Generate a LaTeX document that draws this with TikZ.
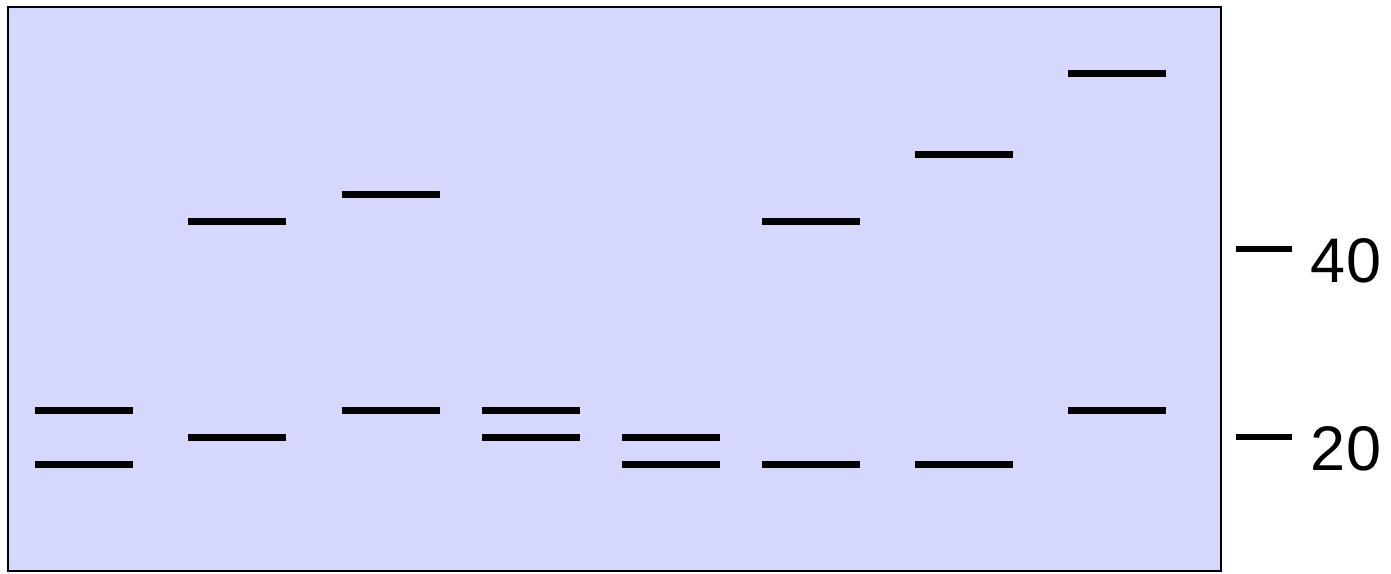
\documentclass[tikz,border=0pt]{standalone}
\usepackage{fontspec}
\setmainfont{Liberation Sans}
\definecolor{gelbg}{RGB}{213,215,253}
\begin{document}
\begin{tikzpicture}[x=1pt,y=-1pt,
  band/.style={line width=7pt},
  marker/.style={line width=5.5pt},
  lbl/.style={font=\fontsize{63}{63}\selectfont, inner sep=0pt, anchor=center}]
\useasboundingbox (0,0) rectangle (1391,573);
\draw[line width=2pt, fill=gelbg] (7.5,6.5) rectangle (1221,571);
% lanes: x-start, bands
\foreach \x/\ya/\yb in {35/410/464, 188/221/437, 342/194/410, 482/410/437, 622/437/464, 762/221/464, 915/154/464, 1068/73/410}{
  \draw[band] (\x,\ya) -- ++(98,0);
  \draw[band] (\x,\yb) -- ++(98,0);
}
\coordinate (m40a) at (1236,249);
\coordinate (m40b) at (1292,249);
\coordinate (m20a) at (1236,437);
\coordinate (m20b) at (1292,437);
\draw[marker] (m40a) -- (m40b);
\draw[marker] (m20a) -- (m20b);
\node[lbl] (l40) at (1346,261) {40};
\node[lbl] (l20) at (1346,449) {20};
\end{tikzpicture}
\end{document}
